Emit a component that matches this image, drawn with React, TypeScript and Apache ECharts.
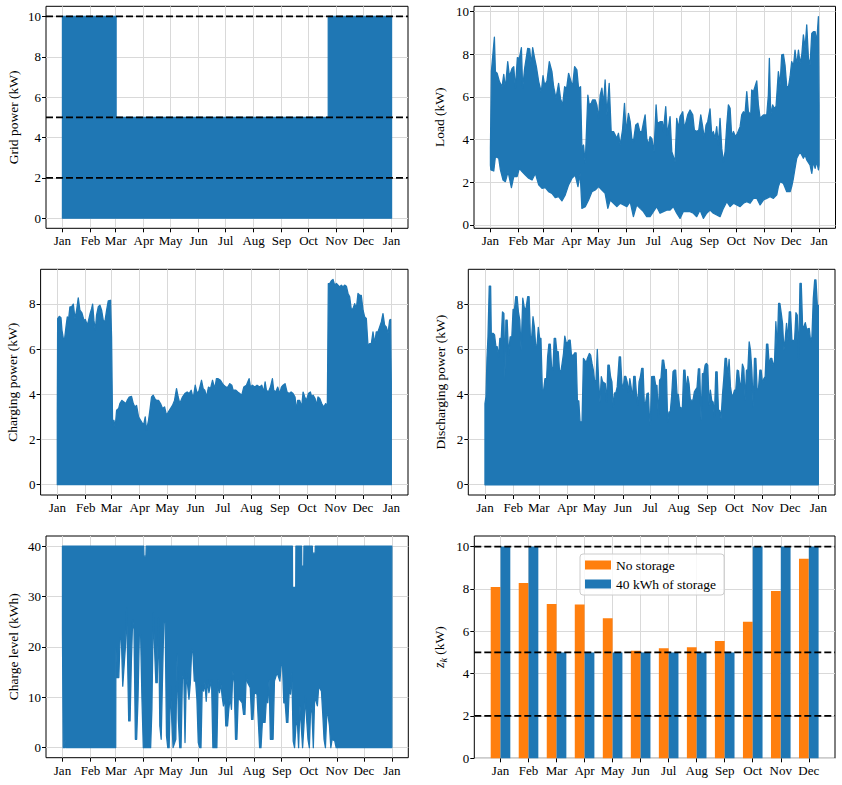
import React, { useEffect, useRef } from "react";
import * as echarts from "echarts";

const FONT = '"Liberation Serif", "DejaVu Serif", serif';
const BLUE = "#1f77b4";
const ORANGE = "#ff7f0e";
const GRID_COLOR = "#d9d9d9";

// Calendar axis (day of year)
const MONTHS = ["Jan", "Feb", "Mar", "Apr", "May", "Jun", "Jul", "Aug", "Sep", "Oct", "Nov", "Dec"];
const MONTH_START_DAYS = [0, 31, 59, 90, 120, 151, 181, 212, 243, 273, 304, 334, 365];
const MONTH_TICK_LABELS = [...MONTHS, "Jan"];
const DAY_MIN = -18.25;
const DAY_MAX = 383.25;

// Grid connection limits (kW)
const POWER_LIMITS_KW = [2, 5, 10];

// Grid power drawn from the grid: envelope of hourly values [day, kW]
const gridPowerUpper: [number, number][] = [
  [0, 10], [59.5, 10], [59.5, 5], [294.8, 5], [294.8, 10], [365, 10],
];
const gridPowerLower: [number, number][] = [[0, 0], [365, 0]];

// Household load envelope [day, kW]
const loadUpper: [number, number][] = [
  [0, 3.6], [1.1, 7.22], [4.4, 8.8], [5.5, 7.19], [7.4, 7.11], [10, 6.72], [12.9, 6.48], [14.8, 7.06],
  [16.6, 6.41], [19.2, 7.66], [21.1, 6.95], [24, 7.34], [25.9, 7.42], [27.7, 6.41], [29.9, 7.84], [32.1, 7.81],
  [34.4, 8.31], [35.8, 6.41], [38, 7.34], [41.4, 8.28], [43.6, 8.25], [45.4, 7.5], [46.9, 8.31], [49.1, 7.81],
  [51, 7.42], [53.6, 6.72], [56.5, 6.22], [58.4, 7.0], [60.2, 6.56], [62.8, 6.75], [65.4, 7.66], [68.3, 7.19],
  [70.2, 6.48], [72.8, 5.94], [75.7, 6.64], [77.9, 5.91], [80.2, 5.63], [82.4, 6.48], [84.6, 6.41], [86.8, 7.11],
  [89, 6.8], [91.2, 6.48], [93.5, 7.42], [96, 7.27], [97.9, 6.41], [100.1, 6.48], [101.6, 3.59], [103.4, 3.75],
  [105.3, 2.89], [108.2, 6.09], [109.7, 5.63], [111.9, 5.7], [113.4, 5.86], [116.4, 5.86], [118.2, 5.63], [120.1, 5.0],
  [121.9, 6.09], [123.8, 6.41], [125.6, 5.63], [127.4, 6.8], [129.3, 5.16], [131.9, 6.64], [134.1, 4.38], [136.7, 4.38],
  [140.4, 4.06], [142.2, 4.3], [144.1, 3.75], [146.7, 4.45], [148.9, 5.7], [150.7, 4.38], [153.3, 5.23], [155.2, 4.84],
  [157, 4.06], [158.8, 3.91], [161.4, 4.69], [163.7, 4.77], [165.9, 4.38], [168.1, 4.38], [169.9, 4.77], [171.8, 5.16],
  [173.6, 4.06], [175.5, 3.75], [177.3, 4.14], [179.2, 4.06], [181.7, 3.44], [184, 5.63], [185.4, 4.77], [188.4, 4.84],
  [191, 4.84], [192.1, 4.38], [194.7, 5.55], [196.5, 4.22], [199.5, 5.08], [201.4, 3.44], [205.1, 2.97], [206.9, 5.0],
  [208.8, 4.53], [210.6, 5.08], [213.6, 5.31], [215.4, 4.53], [217.3, 4.84], [219.1, 5.16], [221.7, 5.39], [224.7, 5.16],
  [226.5, 4.45], [229.1, 4.38], [231.4, 4.45], [233.6, 5.16], [235.4, 4.69], [237.6, 4.06], [239.5, 4.69], [241.3, 4.84],
  [243.9, 5.44], [245.8, 4.22], [247.6, 4.38], [249.5, 4.06], [251.3, 4.61], [253.2, 3.75], [255, 5.0], [256.9, 3.59],
  [258.7, 2.97], [260.6, 3.44], [262.5, 4.69], [264.3, 5.63], [266.2, 5.47], [268, 4.14], [269.9, 4.38], [272.1, 4.14],
  [274.3, 4.3], [277.3, 4.61], [279.1, 5.16], [281, 5.31], [282.8, 5.23], [284.7, 6.25], [286.5, 5.31], [289.1, 5.16],
  [290.2, 6.33], [292.1, 6.25], [295.8, 6.75], [297.6, 5.63], [299.5, 5.0], [303.2, 5.16], [306.9, 5.16], [308.7, 6.09],
  [309.8, 7.81], [311.3, 5.16], [313.5, 5.63], [315, 5.47], [317.2, 5.55], [319.8, 7.19], [321.7, 6.56], [323.5, 7.97],
  [325.4, 8.0], [327.2, 7.5], [329.1, 6.48], [331, 6.48], [332.8, 6.95], [334.6, 7.66], [336.5, 7.42], [338.3, 8.2],
  [340.2, 7.5], [342.1, 8.2], [343.9, 7.58], [345.8, 7.97], [347.6, 8.91], [349.5, 8.28], [351.3, 9.38], [353.2, 7.81],
  [355, 7.5], [356.9, 8.98], [358.7, 9.06], [360.6, 9.06], [362.4, 8.59], [364.3, 9.77], [365, 5.6],
];
const loadLower: [number, number][] = [
  [0, 2.8], [0.5, 2.58], [3.7, 2.53], [5.5, 3.2], [9.2, 3.13], [11.1, 2.58], [14, 2.11], [16.6, 2.03], [19.6, 2.5],
  [23.3, 1.75], [25.9, 2.27], [29.6, 2.27], [32.1, 2.66], [35.1, 2.5], [38.8, 2.34], [42.5, 2.19], [46.2, 2.11],
  [49.9, 2.42], [53.6, 1.88], [57.3, 1.72], [61, 1.75], [64.6, 1.56], [68.3, 1.48], [72, 1.28], [75.7, 1.33],
  [79.4, 1.13], [83.1, 1.41], [86.8, 1.88], [90.5, 2.19], [94.2, 2.34], [97.2, 1.8], [99.7, 2.42], [101.6, 0.78],
  [105.3, 0.86], [109, 1.17], [112.7, 1.56], [116.4, 1.64], [120.1, 1.8], [123.8, 1.64], [127.4, 1.48], [130.4, 0.78],
  [133, 1.17], [136.7, 1.02], [140.4, 0.86], [144.1, 1.02], [147.8, 0.94], [151.5, 0.86], [155.2, 1.09], [158.8, 0.39],
  [162.5, 0.94], [166.2, 0.78], [169.9, 0.63], [173.6, 0.39], [177.3, 0.39], [181, 0.63], [184.7, 0.86], [188.4, 0.55],
  [192.1, 0.63], [195.8, 0.7], [199.5, 0.7], [203.2, 0.86], [206.9, 0.55], [210.6, 0.31], [214.3, 0.63], [218, 0.63],
  [221.7, 0.63], [225.4, 0.55], [229.1, 0.39], [232.8, 0.7], [236.5, 0.31], [240.2, 0.55], [243.9, 0.7], [247.6, 0.55],
  [251.3, 0.47], [255, 0.39], [258.7, 0.78], [262.5, 1.09], [266.2, 0.86], [269.9, 1.02], [273.6, 0.94], [277.3, 0.86],
  [281, 1.02], [284.7, 1.09], [288.4, 1.02], [292.1, 1.25], [295.8, 1.25], [299.5, 0.94], [303.2, 1.17], [306.9, 1.25],
  [310.6, 1.33], [314.3, 1.25], [318, 1.41], [319.8, 1.8], [321.7, 2.03], [325.4, 1.95], [329.1, 1.56], [332.8, 1.56],
  [334.6, 1.8], [336.5, 2.19], [338.3, 2.66], [340.2, 3.13], [343.9, 3.44], [347.6, 3.13], [349.5, 3.28], [351.3, 3.05],
  [355, 2.81], [356.9, 2.42], [358.7, 2.97], [360.6, 2.66], [362.4, 2.97], [364.3, 2.58], [365, 2.8],
];

// Battery charging power envelope [day, kW]
const chargingUpper: [number, number][] = [
  [0, 3.1], [0.4, 7.35], [2.2, 7.45], [4, 7.39], [5.1, 6.83], [6.6, 6.46], [8, 6.46], [9.5, 6.98], [10.9, 7.42],
  [12.4, 7.35], [13.8, 7.87], [15.6, 7.87], [17.5, 7.99], [19.3, 7.35], [21.1, 7.72], [22.9, 8.27], [24.7, 7.72],
  [26.9, 7.6], [29.1, 7.28], [30.6, 7.31], [32.8, 7.06], [34.2, 7.28], [35.7, 7.54], [37.5, 7.79], [38.6, 7.99],
  [40, 7.28], [41.5, 6.83], [42.9, 7.5], [44.8, 7.87], [46.6, 7.94], [48.4, 7.72], [50.2, 7.28], [52, 7.2],
  [53.9, 7.72], [55.7, 8.13], [58.2, 8.16], [59.3, 6.54], [60.4, 2.7], [61.9, 2.85], [63.3, 2.55], [64.8, 3.29],
  [67, 3.37], [68.4, 3.59], [70.6, 3.73], [72.8, 3.66], [75, 3.59], [76.4, 3.73], [78.6, 3.88], [81.1, 3.91],
  [83, 3.59], [84.8, 3.44], [86.6, 3.51], [88.8, 3.0], [91, 2.85], [93.2, 2.7], [94.6, 2.7], [96.1, 3.0],
  [97.5, 2.41], [99.7, 2.85], [101.2, 3.29], [103, 3.88], [104.8, 3.96], [106.6, 3.81], [108.4, 3.73], [110.6, 3.73],
  [112.8, 3.59], [115, 3.37], [117.2, 3.44], [119.4, 3.07], [121.5, 3.22], [123.7, 3.37], [125.9, 3.51], [128.1, 3.73],
  [130.3, 4.25], [132.1, 3.88], [133.9, 3.59], [136.8, 3.88], [139.4, 4.03], [141.9, 4.1], [144.1, 4.03], [146.3, 4.18],
  [148.5, 3.81], [150.7, 4.4], [152.8, 4.03], [155, 4.18], [157.6, 4.62], [159.4, 4.25], [161.2, 4.18], [163, 3.88],
  [165.2, 4.32], [167.4, 4.25], [169.6, 4.62], [172.1, 4.25], [173.9, 4.69], [175.8, 4.69], [178.3, 4.62], [180.5, 4.47],
  [182, 4.4], [184.1, 4.32], [186.3, 4.32], [188.5, 4.47], [190.7, 4.4], [192.1, 4.18], [195.1, 4.18], [197.2, 4.1],
  [199.4, 4.03], [201.6, 3.96], [203.8, 4.32], [206.7, 4.4], [209.6, 4.69], [211.1, 4.32], [213.2, 4.4], [215.8, 4.32],
  [218.3, 4.4], [221.3, 4.32], [223.4, 4.4], [225.6, 4.1], [227.1, 4.55], [228.5, 4.18], [230.7, 4.1], [232.9, 4.32],
  [235.1, 4.69], [236.5, 4.18], [238.7, 4.1], [240.9, 4.32], [243.1, 4.03], [244.9, 4.32], [246.7, 4.4], [248.9, 4.47],
  [251.1, 4.1], [253.3, 4.03], [255.5, 4.1], [257.6, 4.03], [259.8, 3.88], [261.3, 3.29], [262.7, 3.73], [264.9, 3.73],
  [267.1, 3.44], [268.6, 4.1], [270.4, 3.88], [272.2, 3.73], [274.4, 4.03], [276.6, 4.1], [278, 3.88], [279.5, 3.96],
  [281.7, 3.81], [283.1, 3.51], [284.9, 3.88], [286.8, 3.81], [288.9, 3.59], [291.1, 3.44], [293.3, 3.59], [295.1, 3.44],
  [296.2, 8.9], [297.7, 8.9], [299.5, 9.02], [301.3, 9.08], [303.1, 8.83], [305, 8.9], [306.8, 8.83], [308.6, 8.75],
  [310.4, 8.83], [312.2, 8.75], [314, 8.83], [315.9, 8.78], [317.7, 8.46], [319.5, 8.31], [321.3, 7.75], [323.1, 7.79],
  [325, 8.01], [326.8, 7.79], [328.6, 8.46], [330.4, 8.38], [332.2, 8.38], [334.1, 7.72], [335.9, 7.42], [337.7, 7.35],
  [339.5, 6.17], [341.3, 6.24], [343.2, 6.24], [345, 6.76], [346.8, 6.24], [348.6, 6.76], [350.4, 6.76], [352.3, 6.98],
  [354.1, 7.2], [355.9, 7.57], [357.7, 7.06], [359.5, 6.98], [361.4, 6.69], [363.2, 7.28], [364.3, 7.31], [365, 4.47],
];
const chargingLower: [number, number][] = [[0, 0], [365, 0]];

// Battery discharging power envelope [day, kW]
const dischargingUpper: [number, number][] = [
  [0, 3.6], [1.1, 3.9], [2.2, 5.6], [3.3, 6.56], [4.7, 8.81], [6.2, 8.81], [6.9, 6.71], [9.1, 6.71], [10.5, 6.64],
  [12, 6.12], [13.4, 6.12], [14.9, 5.67], [16.3, 6.49], [17.8, 6.49], [19.2, 7.67], [20.7, 7.6], [21.8, 4.71],
  [22.9, 7.3], [24.3, 7.3], [25.8, 5.75], [27.6, 6.56], [29.4, 6.56], [30.8, 7.78], [32.3, 7.78], [33.7, 8.34],
  [35.2, 8.34], [36.6, 7.67], [38.1, 7.3], [39.6, 5.97], [41.4, 8.27], [43.2, 7.82], [45, 7.82], [46.8, 8.34],
  [48.3, 8.34], [49.7, 6.56], [51.2, 6.56], [52.6, 7.45], [54.1, 7.0], [55.5, 6.19], [57, 6.19], [58.4, 6.98],
  [59.9, 6.49], [61.3, 6.49], [62.8, 4.19], [64.2, 4.19], [65.7, 4.71], [67.5, 4.71], [68.6, 5.67], [70, 6.24],
  [71.5, 6.24], [72.9, 5.23], [74.4, 5.08], [75.8, 6.49], [77.3, 6.49], [78.7, 5.9], [80.2, 5.9], [81.6, 5.08],
  [83.1, 5.01], [84.5, 5.38], [86, 5.82], [87.4, 6.59], [88.9, 6.3], [90.3, 6.3], [91.8, 6.41], [93.3, 6.41],
  [94.7, 5.75], [96.9, 5.75], [98.3, 5.85], [99.8, 5.85], [101.2, 3.72], [102.7, 3.72], [104.1, 2.79], [106.3, 2.79],
  [107.8, 5.6], [109.2, 5.53], [110.7, 5.38], [112.1, 5.6], [114.3, 5.82], [115.7, 5.75], [117.2, 5.38], [118.7, 5.08],
  [120.1, 4.56], [121.6, 4.64], [123, 6.0], [124.5, 4.56], [125.9, 3.67], [127.4, 4.79], [128.8, 4.56], [131.7, 4.49],
  [133.2, 3.67], [134.6, 5.3], [136.1, 5.3], [137.5, 4.79], [139, 4.56], [140.4, 3.45], [141.9, 4.07], [143.3, 4.07],
  [144.8, 4.34], [147, 5.67], [148.4, 5.67], [149.9, 4.49], [151.3, 4.27], [152.8, 4.81], [154.2, 4.81], [155.7, 4.56],
  [157.1, 4.12], [158.6, 4.71], [160, 4.34], [161.5, 3.82], [162.9, 4.81], [164.4, 4.81], [165.8, 4.04], [167.3, 3.53],
  [168.7, 4.56], [170.2, 4.79], [171.6, 5.16], [173.1, 5.16], [174.5, 3.53], [176, 3.67], [177.4, 4.04], [178.9, 4.07],
  [179.9, 3.16], [181, 2.64], [182.5, 4.79], [185.4, 4.81], [186.9, 4.41], [188.3, 4.41], [189.8, 3.0], [191.2, 4.64],
  [192.7, 4.71], [194.2, 5.53], [195.6, 5.53], [197.1, 5.08], [198.6, 5.11], [200, 2.79], [201.5, 3.23], [202.9, 3.23],
  [204.4, 3.93], [205.9, 5.01], [207.3, 5.08], [208.8, 5.08], [210.3, 4.01], [211.7, 4.01], [213.2, 3.45], [216.1, 3.38],
  [217.6, 5.08], [219, 5.08], [220.5, 4.12], [222, 4.81], [223.4, 4.49], [224.9, 3.75], [227.8, 3.75], [229.3, 4.12],
  [230.7, 4.22], [232.2, 4.31], [233.7, 5.14], [235.1, 5.14], [236.6, 2.86], [238.1, 4.93], [239.5, 4.9], [241, 5.3],
  [242.4, 5.38], [243.9, 5.3], [245.4, 3.53], [246.8, 4.19], [248.3, 3.72], [249.8, 3.67], [251.2, 3.01], [252.7, 5.01],
  [254.2, 5.01], [255.6, 3.3], [257.1, 3.3], [258.5, 2.93], [260, 3.97], [261.5, 4.71], [262.9, 5.6], [264.4, 5.6],
  [265.9, 4.81], [267.3, 5.56], [268.8, 4.34], [270.2, 3.97], [271.7, 3.97], [273.2, 4.19], [274.6, 4.19], [276.1, 5.08],
  [277.6, 5.05], [279, 4.49], [280.5, 4.49], [281.9, 5.35], [283.4, 5.16], [284.9, 3.75], [286.3, 5.08], [287.8, 5.08],
  [289.3, 6.34], [290.7, 5.97], [292.2, 5.08], [293.7, 3.45], [295.1, 5.6], [296.6, 5.6], [298, 4.19], [299.5, 4.27],
  [301, 5.08], [302.4, 5.08], [303.9, 4.49], [305.4, 4.71], [306.8, 4.79], [308.3, 6.24], [309.7, 6.24], [311.2, 5.3],
  [312.7, 5.6], [314.1, 5.6], [315.6, 5.23], [317.1, 5.53], [318.5, 7.23], [320, 6.0], [321.5, 8.04], [322.9, 8.04],
  [324.4, 7.6], [325.8, 7.16], [327.3, 5.97], [328.8, 6.49], [330.2, 7.16], [331.7, 6.41], [333.2, 7.67], [334.6, 7.67],
  [336.1, 6.39], [339, 6.41], [340.5, 7.63], [341.9, 7.53], [343.4, 5.6], [344.9, 8.93], [346.3, 8.93], [347.8, 7.01],
  [349.2, 7.01], [350.7, 7.19], [352.2, 6.89], [355.1, 6.93], [356.6, 6.34], [358, 6.56], [359.5, 8.27], [361, 9.08],
  [362.4, 9.08], [363.9, 7.97], [365, 7.97],
];
const dischargingLower: [number, number][] = [[0, 0], [365, 0]];

// Battery state of charge envelope [day, kWh]
const chargeLevelUpper: [number, number][] = [
  [0, 40], [90, 40], [90.3, 38], [92.5, 38], [92.8, 40], [254.8, 40], [255, 31.8], [258.5, 31.8], [258.7, 40],
  [265, 40], [265.2, 36], [267.4, 36], [267.6, 40], [276.9, 40], [277.1, 38.6], [280, 38.6], [280.2, 40], [365, 40],
];
const chargeLevelLower: [number, number][] = [
  [0, 22.7], [0.8, 0], [2.2, 0], [2.9, 1.6], [3.7, 0], [59, 0], [59.2, 19.8], [60.2, 13.9], [62.4, 13.9],
  [63.9, 21.8], [65.3, 21.5], [66.8, 12.2], [68.3, 16.2], [69.8, 20.1], [71.2, 27.7], [72, 19.5], [73.4, 5.3],
  [74.9, 5.3], [76.4, 17.5], [77.8, 25.4], [79.3, 23.4], [80.8, 1.65], [82.2, 1.65], [83.7, 9.6], [85.2, 22.4],
  [86.6, 22.4], [88.1, 9.6], [89.6, 0], [97.7, 0], [99.1, 7.6], [100.6, 26.7], [102.1, 19.5], [103.5, 12.9],
  [105, 12.9], [106.5, 25.7], [107.9, 4.3], [109.4, 1.65], [110.9, 14.2], [112.3, 24.8], [113.8, 24.8], [115.3, 2.3],
  [116.7, 0], [118.2, 0], [119.7, 12.2], [121.1, 5.6], [122.6, 0], [125.6, 1.65], [127, 18.5], [128.5, 5.3],
  [130, 0], [131.4, 0], [132.9, 13.5], [134.4, 15.2], [135.8, 1.0], [137.3, 14.9], [138.8, 12.2], [140.2, 9.6],
  [141.7, 12.9], [143.2, 19.5], [144.6, 18.8], [146.1, 13.2], [147.6, 13.2], [149, 9.6], [150.5, 1.0], [152, 0],
  [153.5, 0], [154.9, 12.2], [156.4, 11.2], [157.9, 12.9], [159.3, 9.2], [160.8, 13.5], [162.3, 10.9], [163.7, 12.2],
  [165.2, 13.5], [166.7, 0], [171.1, 0], [172.5, 13.5], [174, 10.9], [175.5, 12.9], [176.9, 10.2], [178.4, 8.3],
  [179.9, 10.2], [181, 4.3], [182.9, 4.3], [184.3, 7.6], [185.8, 9.9], [187.3, 7.6], [188.8, 15.2], [190.3, 12.9],
  [191.8, 1.65], [193.3, 1.65], [194.8, 9.9], [196.2, 9.6], [199.2, 8.9], [200.7, 6.6], [202.2, 6.6], [203.7, 14.5],
  [205.2, 12.9], [208.1, 11.9], [209.6, 5.6], [211.1, 5.6], [212.6, 10.9], [215.6, 10.6], [217.1, 5.0], [218.5, 0],
  [220, 0], [221.5, 5.0], [224.5, 5.0], [226, 9.6], [227.5, 8.9], [229, 13.5], [230.4, 1.65], [233.4, 1.65],
  [234.9, 13.2], [237.9, 14.9], [240.9, 13.2], [242.3, 16.2], [243.8, 16.8], [245.3, 8.9], [246.8, 8.9], [248.3, 5.0],
  [249.8, 5.0], [251.3, 11.6], [252.7, 10.6], [254.2, 14.9], [255.7, 1.3], [257.2, 0], [258.7, 4.3], [260.2, 5.6],
  [261.7, 0], [263.2, 8.3], [264.6, 4.3], [266.1, 0], [267.6, 4.3], [269.1, 10.2], [270.6, 5.6], [272.1, 1.65],
  [273.6, 0], [275.1, 8.3], [276.5, 6.9], [278, 0], [279.5, 10.2], [282.5, 8.3], [284, 12.2], [287, 11.2],
  [288.4, 6.9], [289.9, 1.65], [291.4, 0], [292.9, 6.6], [294.4, 6.3], [295.9, 4.3], [297.4, 0], [298.8, 1.65],
  [301.8, 1.3], [303.3, 0], [365, 0],
];

// Monthly grid subscription z_k (kW)
const noStorageKW = [8.09, 8.28, 7.29, 7.26, 6.62, 5.08, 5.2, 5.25, 5.54, 6.45, 7.9, 9.43];
const withStorageKW = [10, 10, 5, 5, 5, 5, 5, 5, 5, 10, 10, 10];
const BAR_OFFSET = 0.175;
const BAR_X_MIN = -0.935;
const BAR_X_MAX = 11.935;

type Pt = [number, number];

const PANELS = [
  { left: 46, top: 6.3, width: 362, height: 222, yMin: -0.5, yMax: 10.5, yTicks: [0, 2, 4, 6, 8, 10], name: "Grid power (kW)", nameGap: 26 },
  { left: 474, top: 6.3, width: 361.5, height: 222, yMin: -0.155, yMax: 10.25, yTicks: [0, 2, 4, 6, 8, 10], name: "Load (kW)", nameGap: 27.5 },
  { left: 40.6, top: 269.3, width: 367.4, height: 225.7, yMin: -0.455, yMax: 9.53, yTicks: [0, 2, 4, 6, 8], name: "Charging power (kW)", nameGap: 21 },
  { left: 468.3, top: 269.3, width: 366.7, height: 225.7, yMin: -0.455, yMax: 9.555, yTicks: [0, 2, 4, 6, 8], name: "Discharging power (kW)", nameGap: 20.5 },
  { left: 46, top: 536, width: 362.3, height: 221.7, yMin: -2, yMax: 42, yTicks: [0, 10, 20, 30, 40], name: "Charge level (kWh)", nameGap: 26 },
  { left: 474.3, top: 536, width: 360.7, height: 222.3, yMin: 0, yMax: 10.5, yTicks: [0, 2, 4, 6, 8, 10], name: "{z|z}{k|k} (kW)", nameGap: 26 },
];

const ENVELOPES: { upper: Pt[]; lower: Pt[] }[] = [
  { upper: gridPowerUpper, lower: gridPowerLower },
  { upper: loadUpper, lower: loadLower },
  { upper: chargingUpper, lower: chargingLower },
  { upper: dischargingUpper, lower: dischargingLower },
  { upper: chargeLevelUpper, lower: chargeLevelLower },
];

const tickStyle = { color: "#000", fontSize: 13, fontFamily: FONT };

function envelopeSeries(idx: number, upper: Pt[], lower: Pt[]) {
  return {
    type: "custom",
    xAxisIndex: idx,
    yAxisIndex: idx,
    coordinateSystem: "cartesian2d",
    data: [upper[0]],
    clip: true,
    silent: true,
    z: 2,
    renderItem: (_params: any, api: any) => {
      const pts = upper.map((p) => api.coord(p)).concat(lower.slice().reverse().map((p) => api.coord(p)));
      return {
        type: "polygon",
        shape: { points: pts },
        style: { fill: BLUE, stroke: BLUE, lineWidth: 1.3, lineJoin: "round" },
      };
    },
  };
}

function limitLines(idx: number, xMin: number, xMax: number) {
  return POWER_LIMITS_KW.map((v) => ({
    type: "line",
    xAxisIndex: idx,
    yAxisIndex: idx,
    data: [[xMin, v], [xMax, v]],
    symbol: "none",
    silent: true,
    z: 6,
    lineStyle: { color: "#000", width: 1.8, type: [7, 3] },
  }));
}

export default function App() {
  const ref = useRef<HTMLDivElement>(null);

  useEffect(() => {
    if (!ref.current) return;
    const chart = echarts.init(ref.current, undefined, { renderer: "svg" });

    const grids = PANELS.map((p) => ({
      left: p.left,
      top: p.top,
      width: p.width,
      height: p.height,
      show: true,
      borderColor: "#000",
      borderWidth: 1,
      backgroundColor: "transparent",
      containLabel: false,
      outerBoundsMode: "none",
    }));

    const xAxes = PANELS.map((_p, i) => {
      const isBar = i === 5;
      const ticks = isBar ? MONTHS.map((_m, k) => k) : MONTH_START_DAYS;
      return {
        type: "value",
        gridIndex: i,
        min: isBar ? BAR_X_MIN : DAY_MIN,
        max: isBar ? BAR_X_MAX : DAY_MAX,
        axisLine: { show: false, onZero: false },
        axisTick: { show: true, length: 4, customValues: ticks, lineStyle: { color: "#000", width: 1 } },
        axisLabel: {
          ...tickStyle,
          margin: 6,
          customValues: ticks,
          formatter: (v: number) => (isBar ? MONTHS[Math.round(v)] : MONTH_TICK_LABELS[MONTH_START_DAYS.indexOf(v)]) ?? "",
        },
        splitLine: { show: true, lineStyle: { color: GRID_COLOR, width: 1 } },
      };
    });

    const yAxes = PANELS.map((p, i) => ({
      type: "value",
      gridIndex: i,
      min: p.yMin,
      max: p.yMax,
      name: p.name,
      nameLocation: "middle",
      nameGap: p.nameGap,
      nameRotate: 90,
      nameTextStyle: {
        color: "#000",
        fontSize: 13.5,
        fontFamily: FONT,
        rich: {
          z: { fontStyle: "italic", fontSize: 14, fontFamily: FONT, color: "#000", lineHeight: 18, verticalAlign: "middle" },
          k: { fontStyle: "italic", fontSize: 10, fontFamily: FONT, color: "#000", lineHeight: 18, verticalAlign: "bottom" },
        },
      },
      axisLine: { show: false, onZero: false },
      axisTick: { show: true, length: 4, customValues: p.yTicks, lineStyle: { color: "#000", width: 1 } },
      axisLabel: { ...tickStyle, margin: 5, customValues: p.yTicks },
      splitLine: { show: true, lineStyle: { color: GRID_COLOR, width: 1 } },
    }));

    const series: any[] = [];
    ENVELOPES.forEach((e, i) => series.push(envelopeSeries(i, e.upper, e.lower)));
    series.push(...limitLines(0, DAY_MIN, DAY_MAX));

    series.push({
      type: "bar",
      name: "No storage",
      xAxisIndex: 5,
      yAxisIndex: 5,
      data: noStorageKW.map((v, k) => [k - BAR_OFFSET, v]),
      barWidth: 9.8,
      barGap: "-100%",
      itemStyle: { color: ORANGE },
      silent: true,
      z: 2,
    });
    series.push({
      type: "bar",
      name: "40 kWh of storage",
      xAxisIndex: 5,
      yAxisIndex: 5,
      data: withStorageKW.map((v, k) => [k + BAR_OFFSET, v]),
      barWidth: 9.8,
      barGap: "-100%",
      itemStyle: { color: BLUE },
      silent: true,
      z: 2,
    });
    series.push(...limitLines(5, BAR_X_MIN, BAR_X_MAX));

    chart.setOption({
      animation: false,
      textStyle: { fontFamily: FONT },
      grid: grids,
      xAxis: xAxes,
      yAxis: yAxes,
      legend: {
        data: ["No storage", "40 kWh of storage"],
        orient: "vertical",
        left: 580,
        top: 554,
        itemWidth: 26,
        itemHeight: 9,
        itemGap: 5,
        icon: "rect",
        selectedMode: false,
        padding: [4, 8, 4, 5],
        backgroundColor: "rgba(255,255,255,0.8)",
        borderColor: "#cccccc",
        borderWidth: 1,
        borderRadius: 3,
        textStyle: { color: "#000", fontSize: 13.5, fontFamily: FONT },
        z: 10,
      },
      series,
    });

    return () => chart.dispose();
  }, []);

  return <div ref={ref} style={{ position: "absolute", left: 0, top: 0, width: 842, height: 785 }} />;
}
